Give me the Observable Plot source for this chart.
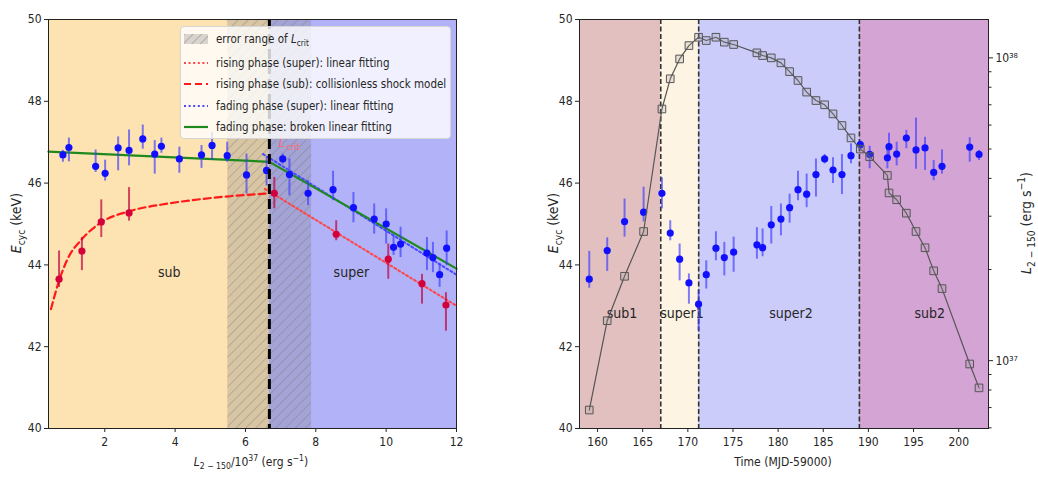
<!DOCTYPE html>
<html>
<head>
<meta charset="utf-8">
<script src="https://cdn.jsdelivr.net/npm/d3@7"></script>
<script src="https://cdn.jsdelivr.net/npm/@observablehq/plot@0.6"></script>
<style>
  html, body { margin: 0; padding: 0; background: #fff; }
  body { position: relative; width: 1038px; height: 477px; overflow: hidden;
         font-family: "DejaVu Sans Condensed", "DejaVu Sans", sans-serif; font-stretch: condensed; color: #262626; }
  .panel { position: absolute; top: 0; height: 477px; }
  .lbl { position: absolute; font-size: 12px; white-space: nowrap; line-height: 1; }
  .lbl sub, .lbl sup { font-size: 0.72em; line-height: 0; }
  .rot { transform: translate(-50%, -50%) rotate(-90deg); }
  .hor { transform: translate(-50%, -50%); }
  #legend { position: absolute; left: 180px; top: 26px; width: 271px; height: 113px; box-sizing: border-box;
            background: rgba(255,255,255,0.8); border: 1px solid #d6d6d6; border-radius: 4px; }
  .lrow { position: absolute; left: 3px; height: 14px; display: flex; align-items: center; font-size: 11.5px; white-space: nowrap; transform: translateY(-50%); }
  .lrow svg { margin-right: 8px; }
  .lrow sub { font-size: 0.72em; line-height: 0; }
</style>
</head>
<body>
<div id="lp" class="panel" style="left:0;width:500px"></div>
<div id="rpA" class="panel" style="left:520px;width:518px"></div>
<div id="rpB" class="panel" style="left:520px;width:518px"></div>
<div id="legend"></div>
<script>
// ================= LEFT PANEL DATA (E_cyc vs luminosity, 10^37 erg/s) =================
const fadeLum  = [0.81,0.98,1.74,2.01,2.38,2.69,3.08,3.42,3.61,4.12,4.75,5.05,5.48,6.03,6.60,7.06,7.25,7.78,8.49,9.07,9.66,10.00,10.21,10.41,11.16,11.33,11.52,11.72];
const fadeEcyc = [46.69,46.87,46.41,46.24,46.86,46.80,47.08,46.71,46.90,46.59,46.69,46.92,46.67,46.20,46.31,46.59,46.21,45.75,45.84,45.40,45.12,45.00,44.43,44.51,44.29,44.18,43.76,44.41];
const fadeErrUp = [0.11,0.23,0.40,0.32,0.27,0.50,0.34,0.33,0.20,0.29,0.23,0.32,0.33,0.51,0.32,0.12,0.38,0.31,0.45,0.37,0.37,0.37,0.29,0.41,0.38,0.37,0.26,0.42];
const fadeErrDn = [0.18,0.35,0.15,0.19,0.56,0.38,0.25,0.49,0.17,0.35,0.33,0.36,0.16,0.47,0.38,0.12,0.52,0.30,0.27,0.37,0.37,0.49,0.20,0.33,0.43,0.37,0.31,0.43];

const riseLum  = [0.70,1.35,1.90,2.69,6.82,8.58,10.06,11.02,11.70];
const riseEcyc = [43.65,44.34,45.05,45.27,45.75,44.75,44.14,43.54,43.02];
const riseErrUp = [0.69,0.33,0.54,0.62,0.39,0.33,0.37,0.23,0.30];
const riseErrDn = [0.20,0.48,0.38,0.20,0.38,0.16,0.49,0.50,0.64];

// fitted curves
const brokenFitLum = [0.4, 6.68, 12];
const brokenFitE   = [46.77, 46.52, 43.91];
const fadeSuperFitLum = [6.5, 12];
const fadeSuperFitE   = [46.71, 43.76];
const riseSuperFitLum = [6.55, 12];
const riseSuperFitE   = [45.86, 43.00];
const shockLum = [0.47,0.70,0.94,1.35,1.90,2.69,3.80,4.75,5.70,6.68];
const shockE   = [42.92,43.61,44.14,44.63,45.04,45.31,45.50,45.61,45.69,45.75];

const lCrit = 6.68, lCritLo = 5.5, lCritHi = 7.88;
const leftLumDomain = [0.4, 12];
const ecycDomain = [40, 50];
const leftXTicks = [2,4,6,8,10,12];
const ecycTicks = [40,42,44,46,48,50];
const leftZoneNames = ["sub", "super"];
const leftZoneFrom  = [0.4, 6.68];
const leftZoneTo    = [6.68, 12];
const leftZoneLabelLum = [3.83, 9.01];
const leftZoneLabelE = 43.82;
const lCritLabelLum = 6.94, lCritLabelE = 46.88;

const legendLabels = [
  'error range of <i>L</i><sub>crit</sub>',
  'rising phase (super): linear fitting',
  'rising phase (sub): collisionless shock model',
  'fading phase (super): linear fitting',
  'fading phase: broken linear fitting'
];

// ================= RIGHT PANEL DATA (time series) =================
const timeMJD = [159.08,161.07,162.99,165.10,167.13,168.05,169.09,170.12,171.19,172.04,173.11,174.04,175.07,177.65,178.28,179.24,180.31,181.27,182.20,183.16,184.19,185.15,186.08,187.07,188.07,189.10,190.14,192.10,192.28,193.13,194.20,195.27,196.27,197.23,198.15,201.22,202.25];
const ecycT = [43.65,44.35,45.06,45.29,45.75,44.78,44.14,43.56,43.04,43.76,44.41,44.18,44.31,44.49,44.42,44.98,45.12,45.40,45.84,45.73,46.21,46.59,46.32,46.21,46.67,46.94,46.70,46.62,46.89,46.71,47.10,46.81,46.86,46.26,46.41,46.88,46.70];
const ecycTErrUp = [0.68,0.31,0.55,0.61,0.38,0.30,0.37,0.22,0.33,0.34,0.40,0.37,0.37,0.42,0.46,0.45,0.37,0.33,0.45,0.49,0.38,0.11,0.30,0.49,0.29,0.10,0.20,0.26,0.33,0.29,0.19,0.78,0.26,0.29,0.40,0.23,0.10];
const ecycTErrDn = [0.22,0.51,0.38,0.24,0.38,0.19,0.53,0.52,0.65,0.35,0.31,0.45,0.49,0.35,0.22,0.47,0.41,0.38,0.27,0.33,0.55,0.12,0.33,0.49,0.20,0.15,0.35,0.27,0.26,0.29,0.26,0.47,0.55,0.20,0.19,0.37,0.15];
// luminosity L_2-150 in units of 1e37 erg/s
const lum37 = [0.687,1.355,1.90,2.67,6.78,8.53,9.92,10.98,11.70,11.41,11.70,11.27,11.07,10.39,10.18,10.00,9.63,9.01,8.42,7.71,7.23,7.00,6.53,5.98,5.44,5.00,4.72,4.09,3.58,3.40,3.07,2.67,2.36,1.98,1.73,0.975,0.813];

const timeDomain = [158, 203.3];
const lumDomain = [0.597, 13.39];
const timeTicks = [160,165,170,175,180,185,190,195,200];
const lumMajorTicks = [1, 10];
const lumTickLabels = ["10³⁷", "10³⁸"];
const lumMinorTicks = [0.6,0.7,0.8,0.9,2,3,4,5,6,7,8,9];
const rightZoneNames = ["sub1", "super1", "super2", "sub2"];
const rightZoneFrom  = [158, 167, 171.2, 189];
const rightZoneTo    = [167, 171.2, 189, 203.3];
const rightZoneBounds = [167, 171.2, 189];
const rightZoneLabelT = [162.7, 169.35, 181.42, 196.79];
const rightZoneLabelE = 42.82;

// ================= STYLE =================
const FONT = '"DejaVu Sans Condensed","DejaVu Sans",sans-serif';
const baseStyle = `font-family:${FONT};font-stretch:condensed;font-size:12px;color:#262626;background:transparent;overflow:visible;`;
const C = {
  subL: "#fde2b2", superL: "#b2b2f9",
  sub1: "#e2c0c0", super1: "#fdf4e3", super2: "#ccccfb", sub2: "#d4a4d4",
  blue: "#1010ff", blueBar: "#3a3aff", red: "#d4003c", redBar: "#c0003a",
  green: "#1e8a1e", redDot: "#ff4545", redDash: "#ff1a1a", blueDot: "#4848ff"
};

// ================= BUILD LEFT =================
const fade = fadeLum.map((x, i) => ({x, e: fadeEcyc[i], lo: fadeEcyc[i] - fadeErrDn[i], hi: fadeEcyc[i] + fadeErrUp[i]}));
const rise = riseLum.map((x, i) => ({x, e: riseEcyc[i], lo: riseEcyc[i] - riseErrDn[i], hi: riseEcyc[i] + riseErrUp[i]}));
const pts = (xs, ys) => xs.map((x, i) => ({x, e: ys[i]}));
const leftZones = leftZoneNames.map((name, i) => ({name, from: leftZoneFrom[i], to: leftZoneTo[i], lx: leftZoneLabelLum[i]}));
const critBand = [{lo: lCritLo, hi: lCritHi}];
const yLo = () => ecycDomain[0], yHi = () => ecycDomain[1];

const lp = Plot.plot({
  width: 500, height: 477,
  marginLeft: 48, marginRight: 44, marginTop: 19, marginBottom: 49,
  style: baseStyle,
  x: {domain: leftLumDomain, label: null},
  y: {domain: ecycDomain, label: null},
  color: {domain: leftZoneNames, range: [C.subL, C.superL]},
  marks: [
    Plot.rect(leftZones, {x1: "from", x2: "to", y1: yLo, y2: yHi, fill: "name"}),
    Plot.rect(critBand, {x1: "lo", x2: "hi", y1: yLo, y2: yHi, fill: "#808080", fillOpacity: 0.3}),
    Plot.rect(critBand, {x1: "lo", x2: "hi", y1: yLo, y2: yHi, fill: "url(#hatchL)"}),
    Plot.text([{x: lCritLabelLum, e: lCritLabelE}], {x: "x", y: "e", text: () => "L", fontStyle: "italic", fontSize: 13, fill: "#ff6a6a", textAnchor: "start", lineAnchor: "bottom"}),
    Plot.text([{x: lCritLabelLum, e: lCritLabelE}], {x: "x", y: "e", text: () => "crit", fontSize: 9, fill: "#ff6a6a", textAnchor: "start", lineAnchor: "bottom", dx: 8, dy: 3}),
    Plot.line(pts(riseSuperFitLum, riseSuperFitE), {x: "x", y: "e", stroke: C.redDot, strokeWidth: 2, strokeDasharray: "2,2.6"}),
    Plot.line(pts(shockLum, shockE), {x: "x", y: "e", stroke: C.redDash, strokeWidth: 2.2, strokeDasharray: "7,4", curve: "monotone-x"}),
    Plot.line(pts(fadeSuperFitLum, fadeSuperFitE), {x: "x", y: "e", stroke: C.blueDot, strokeWidth: 2, strokeDasharray: "2,2.6"}),
    Plot.line(pts(brokenFitLum, brokenFitE), {x: "x", y: "e", stroke: C.green, strokeWidth: 2.2}),
    Plot.ruleX(fade, {x: "x", y1: "lo", y2: "hi", stroke: C.blueBar, strokeOpacity: 0.65, strokeWidth: 2}),
    Plot.dot(fade, {x: "x", y: "e", r: 3.6, fill: C.blue}),
    Plot.ruleX(rise, {x: "x", y1: "lo", y2: "hi", stroke: C.redBar, strokeOpacity: 0.7, strokeWidth: 2}),
    Plot.dot(rise, {x: "x", y: "e", r: 3.6, fill: C.red}),
    Plot.ruleX([lCrit], {stroke: "#000", strokeWidth: 3, strokeDasharray: "10,5"}),
    Plot.text(leftZones, {x: "lx", y: () => leftZoneLabelE, text: "name", fontSize: 14, fill: "#262626"}),
    Plot.frame({stroke: "#222"}),
    Plot.axisX({ticks: leftXTicks, tickSize: 4, tickPadding: 5, label: null}),
    Plot.axisY({ticks: ecycTicks, tickSize: 4, tickPadding: 3, label: null})
  ]
});
{
  const defs = d3.select(lp).insert("defs", ":first-child");
  const p = defs.append("pattern").attr("id", "hatchL").attr("patternUnits", "userSpaceOnUse")
    .attr("width", 7).attr("height", 7).attr("patternTransform", "rotate(45)");
  p.append("line").attr("x1", 0).attr("y1", 0).attr("x2", 0).attr("y2", 7).attr("stroke", "#6e6e6e").attr("stroke-width", 0.8).attr("stroke-opacity", 0.8);
}
document.getElementById("lp").appendChild(lp);

// ================= BUILD RIGHT =================
const obs = timeMJD.map((t, i) => ({t, e: ecycT[i], lo: ecycT[i] - ecycTErrDn[i], hi: ecycT[i] + ecycTErrUp[i], L: lum37[i]}));
const rightZones = rightZoneNames.map((name, i) => ({name, from: rightZoneFrom[i], to: rightZoneTo[i], lx: rightZoneLabelT[i]}));

const rpA = Plot.plot({
  width: 518, height: 477,
  marginLeft: 59, marginRight: 50, marginTop: 19, marginBottom: 49,
  style: baseStyle,
  x: {domain: timeDomain, label: null},
  y: {domain: ecycDomain, label: null},
  color: {domain: rightZoneNames, range: [C.sub1, C.super1, C.super2, C.sub2]},
  marks: [
    Plot.rect(rightZones, {x1: "from", x2: "to", y1: yLo, y2: yHi, fill: "name"}),
    Plot.ruleX(rightZoneBounds, {stroke: "#333", strokeWidth: 1.6, strokeDasharray: "5,2.5"}),
    Plot.text(rightZones, {x: "lx", y: () => rightZoneLabelE, text: "name", fontSize: 14, fill: "#262626"}),
    Plot.ruleX(obs, {x: "t", y1: "lo", y2: "hi", stroke: C.blueBar, strokeOpacity: 0.65, strokeWidth: 2}),
    Plot.dot(obs, {x: "t", y: "e", r: 3.6, fill: C.blue}),
    Plot.frame({stroke: "#222"}),
    Plot.axisX({ticks: timeTicks, tickSize: 4, tickPadding: 5, label: null}),
    Plot.axisY({ticks: ecycTicks, tickSize: 4, tickPadding: 3, label: null})
  ]
});
document.getElementById("rpA").appendChild(rpA);

const rpB = Plot.plot({
  width: 518, height: 477,
  marginLeft: 59, marginRight: 50, marginTop: 19, marginBottom: 49,
  style: baseStyle,
  x: {domain: timeDomain, axis: null},
  y: {type: "log", domain: lumDomain, axis: null},
  marks: [
    Plot.line(obs, {x: "t", y: "L", stroke: "#555", strokeWidth: 1.2}),
    Plot.dot(obs, {x: "t", y: "L", symbol: "square", r: 4.3, stroke: "#555", strokeWidth: 1, fill: "#999", fillOpacity: 0.2}),
    Plot.axisY({anchor: "right", ticks: lumMajorTicks, tickFormat: d => lumTickLabels[lumMajorTicks.indexOf(d)], tickSize: 4, tickPadding: 3, label: null}),
    Plot.axisY({anchor: "right", ticks: lumMinorTicks, tickFormat: () => "", tickSize: 2.5, label: null})
  ]
});
document.getElementById("rpB").appendChild(rpB);

// ================= AXIS TITLES (HTML, with sub/superscripts) =================
function label(html, x, y, cls, size) {
  const d = document.createElement("div");
  d.className = "lbl " + cls;
  d.style.left = x + "px"; d.style.top = y + "px";
  if (size) d.style.fontSize = size + "px";
  d.innerHTML = html;
  document.body.appendChild(d);
}
label('<i>E</i><sub>cyc</sub> (keV)', 16, 223, "rot", 14);
label('<i>L</i><sub>2 − 150</sub>/10<sup>37</sup> (erg s<sup>−1</sup>)', 251, 462, "hor", 12);
label('<i>E</i><sub>cyc</sub> (keV)', 553, 223, "rot", 14);
label('Time (MJD-59000)', 783, 462, "hor", 12);
label('<i>L</i><sub>2 − 150</sub> (erg s<sup>−1</sup>)', 1026, 223, "rot", 14);

// ================= LEGEND =================
const handles = [
  '<svg width="24" height="10"><defs><pattern id="hatchLeg" patternUnits="userSpaceOnUse" width="6" height="6" patternTransform="rotate(45)"><line x1="0" y1="0" x2="0" y2="6" stroke="#6e6e6e" stroke-width="0.8"/></pattern></defs><rect x="0" y="0" width="24" height="10" fill="#808080" fill-opacity="0.3"/><rect x="0" y="0" width="24" height="10" fill="url(#hatchLeg)"/></svg>',
  `<svg width="24" height="10"><line x1="0" y1="5" x2="24" y2="5" stroke="${C.redDot}" stroke-width="2" stroke-dasharray="2,2.6"/></svg>`,
  `<svg width="24" height="10"><line x1="0" y1="5" x2="24" y2="5" stroke="${C.redDash}" stroke-width="2.2" stroke-dasharray="7,4"/></svg>`,
  `<svg width="24" height="10"><line x1="0" y1="5" x2="24" y2="5" stroke="${C.blueDot}" stroke-width="2" stroke-dasharray="2,2.6"/></svg>`,
  `<svg width="24" height="10"><line x1="0" y1="5" x2="24" y2="5" stroke="${C.green}" stroke-width="2.2"/></svg>`
];
const rowY = [12, 36, 57, 79, 100];
const leg = document.getElementById("legend");
legendLabels.forEach((txt, i) => {
  const r = document.createElement("div");
  r.className = "lrow";
  r.style.top = rowY[i] + "px";
  r.innerHTML = handles[i] + "<span>" + txt + "</span>";
  leg.appendChild(r);
});
</script>
</body>
</html>
